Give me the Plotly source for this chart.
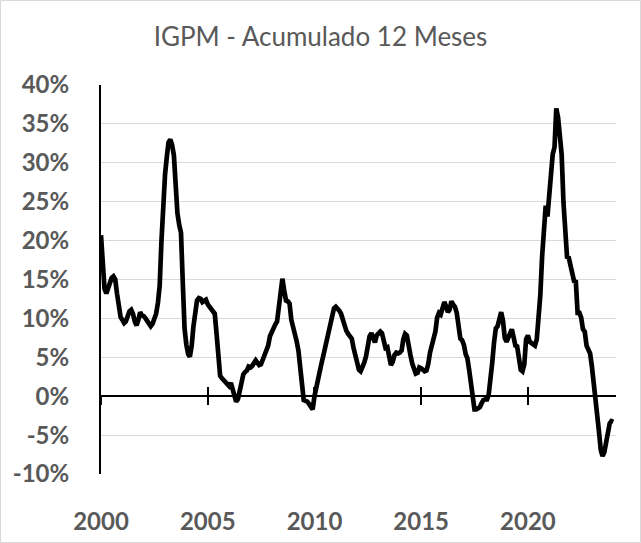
import pandas as pd
import plotly.graph_objects as go

# IGP-M accumulated 12 months (%), monthly from Jan 2000 to Jan 2024
igpm_2000 = [20.7, 16.5, 13.8, 13.2, 14.0, 14.6, 15.2, 15.4, 15.0, 13.2, 11.0, 10.2]
igpm_2001 = [9.8, 9.4, 9.6, 10.3, 10.9, 11.1, 10.6, 9.6, 9.1, 9.8, 10.8, 10.4]
igpm_2002 = [10.3, 10.0, 9.6, 9.3, 9.0, 9.3, 9.9, 10.6, 12.0, 14.2, 20.0, 25.3]
igpm_2003 = [28.5, 30.8, 32.6, 33.0, 32.3, 31.0, 26.5, 23.5, 22.0, 21.0, 14.5, 8.7]
igpm_2004 = [6.6, 5.4, 5.1, 6.5, 9.0, 11.2, 12.3, 12.6, 12.5, 12.1, 12.3, 12.4]
igpm_2005 = [11.8, 11.5, 11.1, 10.8, 10.6, 8.0, 5.0, 2.6, 2.3, 2.0, 1.8, 1.4]
igpm_2006 = [1.3, 1.7, 1.0, 0.0, -0.7, -0.4, 0.8, 2.1, 2.8, 3.1, 3.3, 3.8]
igpm_2007 = [3.7, 3.9, 4.3, 4.6, 4.3, 4.0, 4.1, 4.8, 5.5, 6.1, 6.5, 7.7]
igpm_2008 = [8.3, 8.9, 9.2, 9.6, 11.5, 13.4, 15.1, 13.6, 12.3, 12.2, 11.9, 9.8]
igpm_2009 = [8.9, 8.3, 7.1, 5.9, 3.6, 1.5, -0.5, -0.6, -0.7, -1.0, -1.4, -1.7]
igpm_2010 = [0.0, 1.2, 2.6, 3.5, 4.2, 5.2, 6.3, 7.3, 8.3, 9.3, 10.3, 11.3]
igpm_2011 = [11.5, 11.3, 11.0, 10.6, 9.8, 8.7, 8.4, 8.0, 7.6, 7.4, 6.2, 5.1]
igpm_2012 = [4.3, 3.4, 3.2, 3.7, 4.3, 5.1, 6.7, 7.7, 8.1, 7.5, 6.9, 7.8]
igpm_2013 = [8.1, 8.3, 8.1, 7.3, 6.2, 6.3, 4.9, 4.0, 4.4, 5.3, 5.6, 5.5]
igpm_2014 = [5.6, 5.9, 7.3, 8.0, 7.8, 6.2, 5.3, 4.2, 3.5, 2.9, 3.0, 3.7]
igpm_2015 = [3.6, 3.3, 3.2, 3.3, 4.1, 5.6, 6.4, 7.5, 8.3, 10.1, 10.7, 10.5]
igpm_2016 = [11.4, 12.1, 11.6, 10.8, 11.1, 12.2, 11.8, 11.5, 10.7, 8.8, 7.4, 7.2]
igpm_2017 = [6.6, 5.4, 4.9, 3.4, 1.6, -0.8, -1.7, -1.7, -1.5, -1.4, -0.9, -0.5]
igpm_2018 = [-0.4, -0.4, 0.2, 1.9, 4.3, 6.9, 8.7, 9.0, 10.0, 10.8, 9.7, 7.5]
igpm_2019 = [7.0, 7.6, 8.3, 8.6, 7.6, 6.5, 6.4, 4.9, 3.4, 3.2, 4.1, 7.3]
igpm_2020 = [7.8, 7.0, 6.8, 6.7, 6.5, 7.3, 9.6, 13.0, 18.0, 20.9, 24.5, 23.1]
igpm_2021 = [25.7, 28.9, 31.1, 32.0, 37.0, 35.8, 33.8, 31.1, 24.9, 21.7, 17.9, 17.8]
igpm_2022 = [16.9, 16.1, 14.8, 14.7, 10.7, 10.7, 10.1, 8.6, 8.3, 6.5, 5.9, 5.5]
igpm_2023 = [3.8, 1.9, 0.2, -2.2, -4.5, -6.9, -7.7, -7.2, -6.0, -4.6, -3.5, -3.2]
igpm_2024 = [-3.3]

values = (igpm_2000 + igpm_2001 + igpm_2002 + igpm_2003 + igpm_2004 + igpm_2005 +
          igpm_2006 + igpm_2007 + igpm_2008 + igpm_2009 + igpm_2010 + igpm_2011 +
          igpm_2012 + igpm_2013 + igpm_2014 + igpm_2015 + igpm_2016 + igpm_2017 +
          igpm_2018 + igpm_2019 + igpm_2020 + igpm_2021 + igpm_2022 + igpm_2023 +
          igpm_2024)
dates = pd.date_range("2000-01-01", periods=len(values), freq="MS")

x_tick_years = ["2000", "2005", "2010", "2015", "2020"]
x_tick_vals = [f"{y}-01-01" for y in x_tick_years]
y_tick_vals = [-10, -5, 0, 5, 10, 15, 20, 25, 30, 35, 40]
y_tick_text = ["-10%", "-5%", "0%", "5%", "10%", "15%", "20%", "25%", "30%", "35%", "40%"]

title_text = "IGPM - Acumulado 12 Meses"

W, H = 641, 543
ML, MR, MT, MB = 101, 25, 85, 69
PW, PH = W - ML - MR, H - MT - MB

label_color = "#595959"
font_family = "Lato"

fig = go.Figure()
fig.add_trace(go.Scatter(
    x=dates, y=values, mode="lines",
    line=dict(color="black", width=4.7),
    showlegend=False, hoverinfo="skip",
))
# helper traces so that the zero-crossing axes get drawn
fig.add_trace(go.Scatter(x=[], y=[], xaxis="x2", showlegend=False, hoverinfo="skip"))
fig.add_trace(go.Scatter(x=[], y=[], xaxis="x3", showlegend=False, hoverinfo="skip"))

x_range = ["2000-01-01", "2024-02-17"]
y_range = [-10, 40]
zero_pos = (0 - y_range[0]) / (y_range[1] - y_range[0])

cross_axis = dict(
    overlaying="x", matches="x", anchor="free", position=zero_pos,
    type="date", range=x_range, automargin=False,
    showline=True, linecolor="black", linewidth=2,
    tickvals=x_tick_vals, ticklen=8, tickwidth=2, tickcolor="black",
    showticklabels=False, showgrid=False, zeroline=False,
)

fig.update_layout(
    width=W, height=H,
    margin=dict(l=ML, r=MR, t=MT, b=MB, pad=0, autoexpand=False),
    paper_bgcolor="white", plot_bgcolor="white",
    title=dict(
        text=title_text, x=0.5, xref="container", xanchor="center",
        y=1 - 37 / H, yref="container", yanchor="middle",
        font=dict(family=font_family, size=26, color=label_color),
    ),
    xaxis=dict(
        type="date", range=x_range, automargin=False,
        tickvals=x_tick_vals, ticktext=x_tick_years,
        showgrid=False, zeroline=False, showline=False, ticks="",
        ticklabelstandoff=31,
        tickfont=dict(family=font_family, size=24, color=label_color, weight="bold"),
    ),
    xaxis2=dict(cross_axis, ticks="outside"),
    xaxis3=dict(cross_axis, ticks="inside"),
    yaxis=dict(
        range=y_range, tickvals=y_tick_vals, ticktext=y_tick_text, automargin=False,
        showgrid=True, gridcolor="#d9d9d9", gridwidth=1,
        zeroline=False, showline=True, linecolor="black", linewidth=2,
        ticks="", ticklabelstandoff=25,
        tickfont=dict(family=font_family, size=24, color=label_color, weight="bold"),
    ),
    shapes=[dict(
        type="rect", xref="paper", yref="paper", layer="above",
        x0=(-ML + 0.5) / PW, x1=1 + (MR - 0.5) / PW,
        y0=(-MB + 0.5) / PH, y1=1 + (MT - 0.5) / PH,
        line=dict(color="#d9d9d9", width=1),
    )],
)

fig.write_html("out.html")
